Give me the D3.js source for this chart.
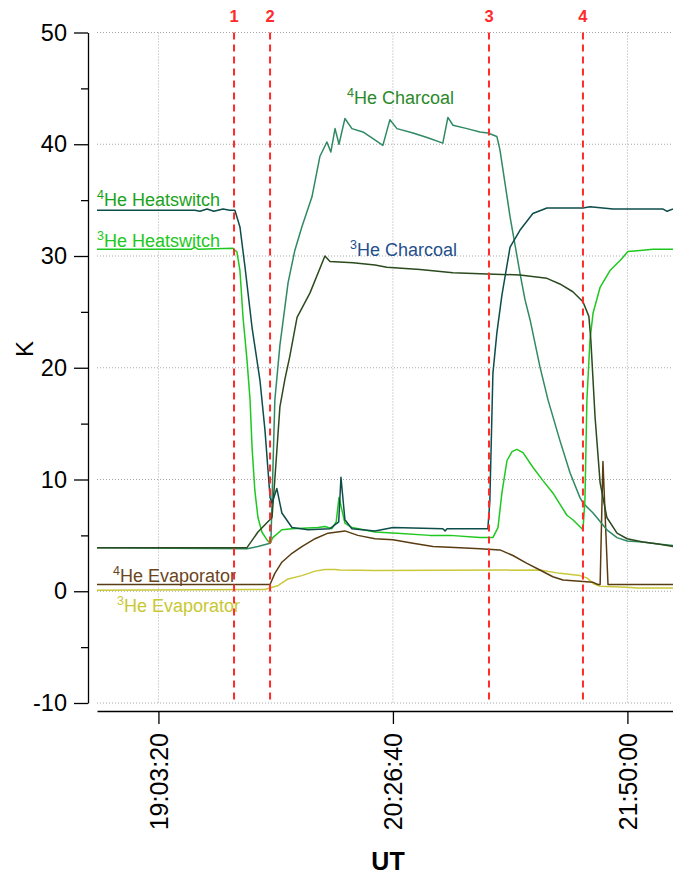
<!DOCTYPE html>
<html>
<head>
<meta charset="utf-8">
<script src="https://cdn.jsdelivr.net/npm/d3@7"></script>
<style>
  body { margin: 0; background: #fff; }
  svg { display: block; font-family: "Liberation Sans", Arial, sans-serif; }
</style>
</head>
<body>
<svg id="chart"></svg>
<script>
// time is in minutes after 18:00:00 UT, temperatures in K
const xTickLabels = ["19:03:20", "20:26:40", "21:50:00"];
const yMajor = [-10, 0, 10, 20, 30, 40, 50];
const yMinor = [-5, 5, 15, 25, 35, 45];
const markerLabels = ["1", "2", "3", "4"];
const markerTimes = [90.2, 103.0, 180.8, 214.2];

const he4Heatswitch = [[41.5,34.1],[76.3,34.1],[78.1,34.0],[80.6,34.2],[83.0,34.0],[86.3,34.2],[88.7,34.1],[90.5,34.1],
  [92.3,32.6],[94.1,29.0],[96.6,23.6],[99.4,18.9],[101.2,14.4],[103.0,8.4],[103.7,7.9],[105.4,9.2],[107.2,7.0],
  [110.8,5.7],[116.5,5.5],[124.3,5.6],[127.4,6.2],[128.2,10.2],[129.6,6.4],[132.1,5.6],[140.3,5.4],[146.7,5.7],
  [164.4,5.6],[165.2,5.4],[165.9,5.6],[180.4,5.6],[181.1,8.0],[182.2,19.5],[183.6,23.1],[185.4,26.5],[188.3,30.8],
  [191.8,32.3],[196.4,33.8],[201.4,34.3],[214.2,34.3],[216.7,34.4],[224.9,34.2],[242.7,34.2],[244.1,34.0],[246.2,34.2]];

const he3Heatswitch = [[41.5,30.6],[75.0,30.6],[76.3,30.8],[77.5,30.6],[89.8,30.7],[90.5,30.5],[91.2,30.4],
  [92.3,28.7],[93.4,24.5],[94.8,20.7],[95.9,17.1],[96.6,12.9],[97.6,9.0],[98.7,6.6],[100.1,5.3],[101.9,4.6],
  [103.0,4.3],[104.0,4.8],[107.2,5.5],[110.8,5.6],[120.0,5.7],[122.5,5.8],[125.0,5.6],[126.5,6.2],[127.5,8.4],
  [129.6,6.1],[132.1,5.7],[140.3,5.3],[148.1,5.2],[159.8,5.0],[166.9,5.0],[177.6,4.8],[182.2,4.8],[184.0,5.7],
  [185.4,8.8],[187.2,11.7],[189.0,12.5],[190.7,12.7],[192.9,12.4],[196.4,11.1],[200.0,9.9],[203.5,8.8],
  [208.5,6.8],[210.6,6.4],[214.2,5.5],[214.9,8.1],[215.6,17.1],[216.7,22.5],[217.8,24.9],[220.3,27.2],
  [223.8,28.7],[227.4,29.6],[230.2,30.4],[234.5,30.5],[239.1,30.6],[246.2,30.6]];

const he4Charcoal = [[41.5,3.9],[94.8,3.8],[98.7,4.0],[103.0,4.3],[103.3,4.4],[104.7,17.1],[106.5,22.0],
  [109.4,27.6],[111.8,30.5],[114.3,32.6],[117.9,35.3],[120.7,38.9],[123.2,40.2],[124.6,39.3],[126.1,41.4],
  [127.5,40.0],[129.6,42.3],[132.1,41.4],[136.0,41.1],[139.6,40.5],[143.1,39.9],[145.6,42.2],[148.1,41.4],
  [153.8,41.0],[158.8,40.6],[164.4,40.1],[166.2,42.4],[168.0,41.7],[173.0,41.4],[177.6,41.1],[180.4,41.0],
  [183.6,40.7],[184.7,39.5],[188.3,33.5],[191.8,28.5],[193.6,26.1],[195.4,24.3],[198.9,20.1],[201.8,17.1],
  [206.0,13.5],[209.6,10.6],[213.1,8.4],[214.2,7.9],[217.8,7.0],[222.7,5.5],[226.3,4.8],[229.9,4.5],
  [235.5,4.4],[241.6,4.2],[246.2,4.1]];

const he3Charcoal = [[41.5,3.9],[94.8,3.9],[98.7,5.3],[103.7,6.6],[104.7,10.0],[106.5,16.5],[108.3,19.0],
  [110.0,21.0],[112.6,24.5],[117.2,26.7],[122.5,30.0],[124.3,29.5],[132.5,29.4],[140.3,29.2],[144.5,29.0],
  [156.3,28.8],[168.0,28.5],[180.1,28.4],[191.8,28.3],[201.4,28.0],[206.0,27.5],[210.6,26.8],[214.2,25.9],
  [216.3,24.6],[217.0,22.5],[218.5,15.6],[220.3,9.7],[222.7,6.6],[226.3,5.2],[229.9,4.7],[235.5,4.4],
  [241.6,4.2],[246.2,4.0]];

const he4Evaporator = [[41.5,0.6],[103.0,0.6],[104.7,1.6],[107.2,2.6],[110.8,3.4],[114.3,4.0],[119.0,4.7],
  [123.6,5.2],[129.6,5.4],[134.2,5.0],[140.3,4.7],[146.7,4.6],[153.8,4.3],[160.9,4.0],[170.5,3.9],[177.6,3.8],
  [184.7,3.7],[189.3,3.2],[194.3,2.5],[198.9,1.9],[203.5,1.3],[207.1,1.0],[213.1,0.9],[217.8,0.8],[219.5,0.6],
  [220.3,0.6],[221.3,11.6],[223.1,0.6],[246.2,0.6]];

const he3Evaporator = [[41.5,0.1],[101.2,0.15],[103.7,0.35],[105.8,0.5],[109.4,1.1],[114.3,1.4],[119.0,1.8],
  [122.5,1.95],[126.1,1.95],[127.8,1.9],[140.3,1.85],[198.9,1.9],[206.0,1.6],[213.1,1.4],[215.6,1.2],
  [217.8,0.7],[220.3,0.45],[229.9,0.35],[233.4,0.3],[246.2,0.3]];

const W = 673, H = 876;
const svg = d3.select('#chart').attr('width', W).attr('height', H);

const toMin = s => { const p = s.split(':').map(Number); return (p[0] - 18) * 60 + p[1] + p[2] / 60; };
const fmt = m => {
  const t = Math.round((m + 18 * 60) * 60);
  const hh = Math.floor(t / 3600), mm = Math.floor((t % 3600) / 60), ss = t % 60;
  return d3.format('02d')(hh) + ':' + d3.format('02d')(mm) + ':' + d3.format('02d')(ss);
};

const x = d3.scaleLinear().domain([41.5, 246.2]).range([97, 673]);
const y = d3.scaleLinear().domain([-10, 50]).range([703, 32.5]);
const xTicks = xTickLabels.map(toMin);

// grid
const grid = svg.append('g').attr('stroke', '#a8a8a8').attr('stroke-dasharray', '1,2').attr('stroke-width', 1);
grid.selectAll('line.h').data(yMajor).join('line').attr('class', 'h')
    .attr('x1', 97).attr('x2', W).attr('y1', d => y(d)).attr('y2', d => y(d));
grid.selectAll('line.v').data(xTicks).join('line').attr('class', 'v')
    .attr('x1', d => x(d)).attr('x2', d => x(d)).attr('y1', y(50)).attr('y2', y(-10));

// y axis
const yaxis = svg.append('g').attr('transform', 'translate(88,0)')
    .call(d3.axisLeft(y).tickValues(yMajor).tickSize(14).tickSizeOuter(0).tickPadding(7).tickFormat(d => String(d)));
svg.append('g').attr('transform', 'translate(88,0)')
    .call(d3.axisLeft(y).tickValues(yMinor).tickSize(7).tickFormat(''))
    .select('.domain').remove();
yaxis.selectAll('text').attr('font-size', 23.5).attr('fill', '#000').attr('font-family', '"Liberation Sans", Arial, sans-serif');
svg.selectAll('.tick line, .domain').attr('stroke', '#000').attr('stroke-width', 1.3);

// x axis
const xaxis = svg.append('g').attr('transform', 'translate(0,711)')
    .call(d3.axisBottom(x).tickValues(xTicks).tickSize(13).tickSizeOuter(0).tickFormat(fmt));
xaxis.selectAll('text')
    .attr('transform', 'rotate(-90)').attr('x', -22).attr('y', 0).attr('dy', '0.36em')
    .attr('text-anchor', 'end').attr('font-size', 25).attr('fill', '#000')
    .attr('font-family', '"Liberation Sans", Arial, sans-serif');
xaxis.selectAll('.tick line, .domain').attr('stroke', '#000').attr('stroke-width', 1.3);

svg.append('text').attr('transform', 'translate(33,349) rotate(-90)').attr('text-anchor', 'middle')
    .attr('font-size', 24).text('K');
svg.append('text').attr('x', 388).attr('y', 870).attr('text-anchor', 'middle')
    .attr('font-size', 25).attr('font-weight', 'bold').text('UT');

// series
const series = [
  { data: he3Evaporator, color: '#c9c83a' },
  { data: he4Evaporator, color: '#5a3c12' },
  { data: he4Charcoal, color: '#2f8a64' },
  { data: he3Heatswitch, color: '#1fc81f' },
  { data: he3Charcoal, color: '#2b4a1d' },
  { data: he4Heatswitch, color: '#0d4d4a' }
];
const line = d3.line().x(d => x(d[0])).y(d => y(d[1]));
svg.append('g').selectAll('path').data(series).join('path')
    .attr('d', d => line(d.data)).attr('fill', 'none')
    .attr('stroke', d => d.color).attr('stroke-width', 1.5).attr('stroke-linejoin', 'round');

// labels
const labels = [
  { iso: '4', name: 'He Charcoal', x: 347, y: 103.5, color: '#2a8a2a' },
  { iso: '3', name: 'He Charcoal', x: 350, y: 256, color: '#1f4f8c' },
  { iso: '4', name: 'He Heatswitch', x: 97, y: 205.5, color: '#1aa31a' },
  { iso: '3', name: 'He Heatswitch', x: 97, y: 247, color: '#20c820' },
  { iso: '4', name: 'He Evaporator', x: 113, y: 581.5, color: '#6b4522' },
  { iso: '3', name: 'He Evaporator', x: 117, y: 612, color: '#c8c832' }
];
const lab = svg.append('g').selectAll('text').data(labels).join('text')
    .attr('x', d => d.x).attr('y', d => d.y).attr('fill', d => d.color).attr('font-size', 18);
lab.append('tspan').attr('font-size', 12.5).attr('dy', -7).text(d => d.iso);
lab.append('tspan').attr('dy', 7).text(d => d.name);

// event markers
const mk = svg.append('g');
mk.selectAll('line').data(markerTimes).join('line')
    .attr('x1', d => x(d)).attr('x2', d => x(d)).attr('y1', y(50)).attr('y2', y(-10))
    .attr('stroke', '#ff2a2a').attr('stroke-width', 2).attr('stroke-dasharray', '7,5');
mk.selectAll('text').data(markerTimes).join('text')
    .attr('x', d => x(d)).attr('y', 22).attr('text-anchor', 'middle')
    .attr('fill', '#ff2a2a').attr('font-weight', 'bold').attr('font-size', 16.5)
    .text((d, i) => markerLabels[i]);
</script>
</body>
</html>
